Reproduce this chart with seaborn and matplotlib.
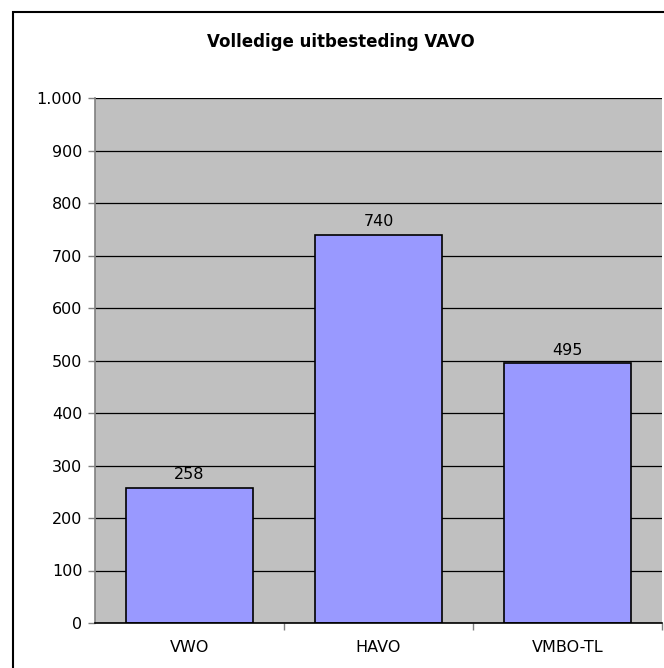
import matplotlib
matplotlib.use("Agg")
import matplotlib.pyplot as plt
import seaborn as sns
import pandas as pd
from matplotlib.patches import Rectangle
from matplotlib.ticker import FuncFormatter

categories = ["VWO", "HAVO", "VMBO-TL"]
values = [258, 740, 495]
title = "Volledige uitbesteding VAVO"

sns.set_theme(style="white")
plt.rcParams['font.family'] = ['DejaVu Sans']
plt.rcParams['text.color'] = 'black'
plt.rcParams['xtick.color'] = 'black'
plt.rcParams['ytick.color'] = 'black'

W, H = 664, 668
fig = plt.figure(figsize=(W/100, H/100), dpi=100)
L, R, T, B = 95, 662, 98, 623
ax = fig.add_axes([L/W, 1 - B/H, (R-L)/W, (B-T)/H])
ax.set_facecolor("#C0C0C0")

df = pd.DataFrame({"cat": categories, "val": values})
sns.barplot(data=df, x="cat", y="val", ax=ax, color="#9999FF", width=0.667,
            edgecolor="black", linewidth=1.2, saturation=1, zorder=3)
for p in ax.patches:
    p.set_zorder(3)

ax.set_xlim(-0.5, 2.5)
ax.set_ylim(0, 1000)
ax.set_yticks(range(0, 1001, 100))
ax.yaxis.set_major_formatter(FuncFormatter(lambda v, _: f"{int(v):,}".replace(",", ".")))
ax.grid(axis="y", color="black", linewidth=0.9, zorder=1)
ax.set_axisbelow(True)
ax.set_xlabel("")
ax.set_ylabel("")

ax.set_xticks([0, 1, 2])
ax.set_xticklabels(categories)
ax.tick_params(axis="x", length=0, labelsize=11.5, pad=12, labelcolor="black")
ax.set_xticks([0.5, 1.5, 2.5], minor=True)
ax.tick_params(axis="x", which="minor", length=5, color="#808080", width=1, direction="out", bottom=True)
ax.tick_params(axis="y", length=5, color="#808080", width=1, direction="out", left=True,
               labelsize=11.5, pad=4, labelcolor="black")

for s in ["top", "right"]:
    ax.spines[s].set_visible(False)
for s in ["left", "bottom"]:
    ax.spines[s].set_color("#808080")
    ax.spines[s].set_linewidth(1.2)
ax.spines["bottom"].set_color("black")
ax.spines["bottom"].set_zorder(4)

for i, v in enumerate(values):
    ax.text(i, v + 10, str(v), ha="center", va="bottom", fontsize=11.5, color="black")

fig.text(341/W, 1 - 42/H, title, ha="center", va="center", fontsize=12, fontweight="bold", color="black")

fig.patches.append(Rectangle((13/W, -0.1), 1.2, 1 - 12/H + 0.1, transform=fig.transFigure,
                             fill=False, edgecolor="black", linewidth=1.5, figure=fig))

fig.savefig("out.png", dpi=100, facecolor="white")
